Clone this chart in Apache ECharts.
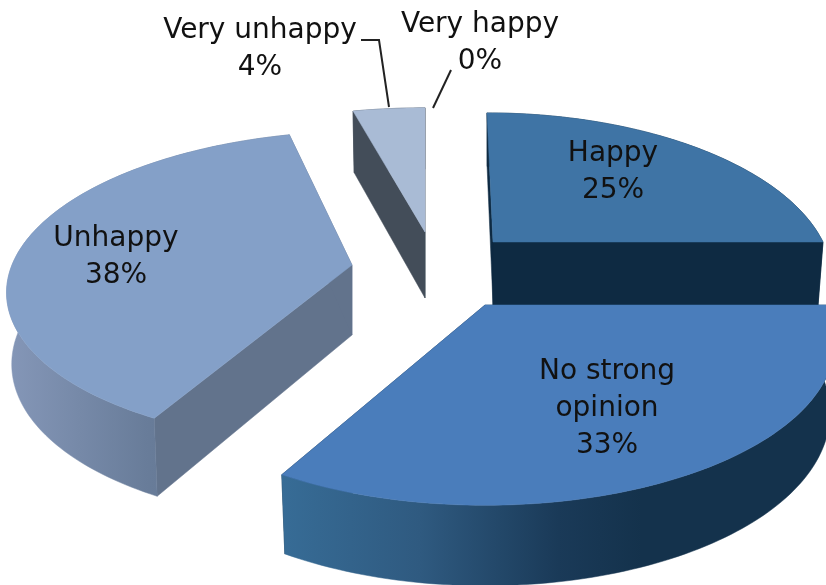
<!DOCTYPE html>
<html>
<head>
<meta charset="utf-8">
<title>Pie</title>
<style>
html,body{margin:0;padding:0;background:#fff;}
#chart{width:826px;height:585px;}
</style>
<script src="https://cdn.jsdelivr.net/npm/echarts@6/dist/echarts.min.js"></script>
</head>
<body>
<div id="chart"></div>
<script>
// chart data
var categories = ['Happy','No strong\nopinion','Unhappy','Very unhappy','Very happy'];
var values = [25,33,38,4,0];

// layout of each exploded slice (not data)
var centers = [[493,242],[485,305],[352,265],[425,232],[433,232]];
var depths = [63,70,70,66,0];
var depthV = [0.15,0.15,0.13,0.07,0];
var leans = [6,0,-12,0,0];
var radiiX = [330,342,340,350,330];
var radiiY = [157,157,153,151,157];
var persp = [0.216,0.216,0.143,0.216,0.216];
var labelPos = [[613,172],[607,409],[116,257],[260,49],[480,43]];
var leaders = [null,null,null,[[361,40],[379,40],[389,107]],[[451,70],[433,108]]];

// colours: top, edge, rim gradient
var topColors = ['#3f74a5','#4a7dbb','#84a0c8','#a9bbd5','#a9bbd5'];
var edgeColors = ['#0e2a42','#12304b','#62738c','#434d59','#434d59'];
var rimStops = [
	[[0,'#0e2a42'],[1,'#0e2a42']],
	[[0,'#376c96'],[0.25,'#2f5a80'],[0.5,'#1a3a58'],[0.65,'#14324c'],[1,'#14324c']],
	[[0,'#8597b8'],[0.5,'#687c99'],[1,'#62738c']],
	[[0,'#434d59'],[1,'#434d59']],
	[[0,'#434d59'],[1,'#434d59']]
];

var BOTTOM_X = 0.985;
var total = 0;
for(var t=0;t<values.length;t++) total += values[t];

// tilted disc with a bit of perspective, v>0 is towards the viewer
function project(idx,frac,r){
	var a = frac*Math.PI*2,
		u = Math.sin(a)*r,
		v = -Math.cos(a)*r,
		s = 1/(1-persp[idx]*v),
		c = centers[idx];
	return {
		x: c[0]+u*radiiX[idx]*s+leans[idx]*v,
		y: c[1]+v*radiiY[idx]*s,
		v: v
	};
}
function toBottom(idx,p){
	var c = centers[idx];
	return [c[0]+(p.x-c[0])*BOTTOM_X, p.y+depths[idx]*(1+depthV[idx]*p.v)];
}
function face(pts,fill){
	return {
		type:'polygon',
		shape:{points:pts},
		style:{fill:fill,stroke:fill,lineWidth:0.5}
	};
}
function renderSlice(params,api){
	var idx = params.dataIndex,val = api.value(1),children = [];
	var before = 0;
	for(var i=0;i<idx;i++) before += values[i];
	if(val > 0){
		var from = before/total,to = (before+val)/total,arc = [];
		var n = Math.max(6,Math.round(val*3));
		for(var k=0;k<=n;k++) arc.push(project(idx,from+(to-from)*k/n,1));
		var mid = project(idx,0,0),
			topPts = [[mid.x,mid.y]],
			rimPts = [];
		var lower = [];
		for(var k=0;k<=n;k++){
			topPts.push([arc[k].x,arc[k].y]);
			rimPts.push([arc[k].x,arc[k].y]);
			lower.unshift(toBottom(idx,arc[k]));
		}
		rimPts = rimPts.concat(lower);
		var midB = toBottom(idx,mid);
		var first = arc[0],last = arc[n];
		children.push(face([[mid.x,mid.y],[first.x,first.y],toBottom(idx,first),midB],edgeColors[idx]));
		children.push(face([[mid.x,mid.y],[last.x,last.y],toBottom(idx,last),midB],edgeColors[idx]));
		children.push(face(rimPts,new echarts.graphic.LinearGradient(0,0,1,0,
			rimStops[idx].map(function(s){return {offset:s[0],color:s[1]};}))));
		children.push(face(topPts,topColors[idx]));
	}
	if(leaders[idx]){
		children.push({
			type:'polyline',
			shape:{points:leaders[idx]},
			style:{fill:null,stroke:'#222',lineWidth:2}
		});
	}
	children.push({
		type:'text',
		x:labelPos[idx][0],
		y:labelPos[idx][1],
		style:{
			text:categories[idx]+'\n'+val+'%',
			fill:'#111',
			font:'28px "DejaVu Sans"',
			lineHeight:37,
			align:'center',
			verticalAlign:'middle'
		}
	});
	return {type:'group',children:children};
}

var myChart = echarts.init(document.getElementById('chart'));
var option = {
	animation:false,
	backgroundColor:'#fff',
	series:[{
		type:'custom',
		coordinateSystem:'none',
		renderItem:renderSlice,
		data:values.map(function(v,i){return [i,v];})
	}]
};
myChart.setOption(option,true);
</script>
</body>
</html>
